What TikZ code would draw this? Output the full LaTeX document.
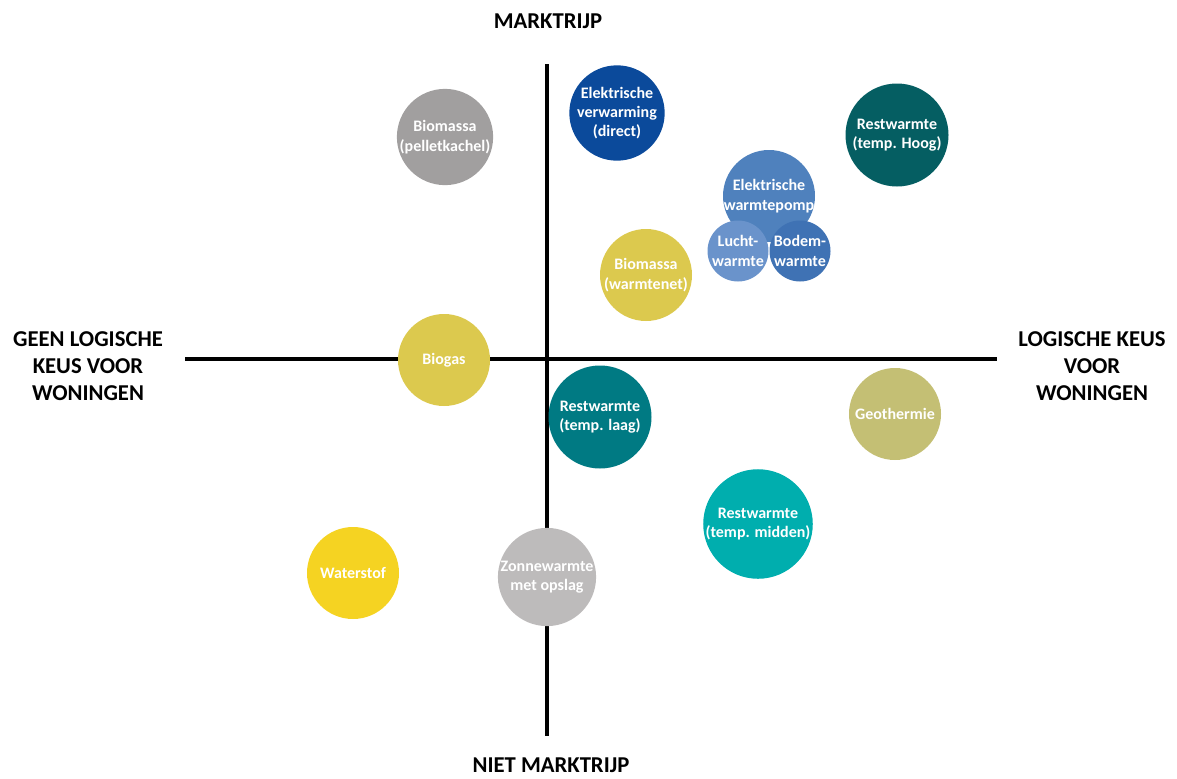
\documentclass[tikz,border=0pt]{standalone}
\usepackage{fontspec}
\setmainfont{Carlito}
\begin{document}
\begin{tikzpicture}[x=0.75pt,y=-0.75pt,
  btext/.style={text=white,font=\bfseries\fontsize{12}{14.5}\selectfont,align=center},
  bub/.style={circle,inner sep=0pt,minimum size=#1*0.75pt,btext},
  axis/.style={line width=3pt},
  lab/.style={font=\bfseries\fontsize{17}{20.5}\selectfont,align=center}]
\useasboundingbox (0,0) rectangle (1177,778);
% axes
\coordinate (vt) at (547,64);
\coordinate (vb) at (547,736);
\coordinate (hl) at (185,359);
\coordinate (hr) at (997,359);
\draw[axis] (vt) -- (vb);
\draw[axis] (hl) -- (hr);
% labels
\node[lab] (top) at (548,21) {MARKTRIJP};
\node[lab,anchor=base] (bot) at (551,772) {NIET MARKTRIJP};
\node[lab] (left) at (88,366) {GEEN LOGISCHE\\KEUS VOOR\\WONINGEN};
\node[lab] (right) at (1092,366) {LOGISCHE KEUS\\VOOR\\WONINGEN};
% colours
\definecolor{cGray}{HTML}{A19F9F}
\definecolor{cBlue}{HTML}{0B4A9B}
\definecolor{cTealD}{HTML}{055E62}
\definecolor{cBlueM}{HTML}{4F81BD}
\definecolor{cBlueL}{HTML}{6A93CB}
\definecolor{cBlueB}{HTML}{3F72B4}
\definecolor{cYel}{HTML}{DCC94E}
\definecolor{cTeal}{HTML}{007A83}
\definecolor{cOlive}{HTML}{C4BF74}
\definecolor{cCyan}{HTML}{00AEAE}
\definecolor{cWater}{HTML}{F5D322}
\definecolor{cGrayL}{HTML}{BDBBBB}
% bubbles
\node[bub=92,fill=cGray] (pellet) at (445,137) {Biomassa\\(pelletkachel)};
\node[bub=92,fill=cBlue] (direct) at (617,113) {Elektrische\\verwarming\\(direct)};
\node[bub=103,fill=cTealD] (hoog) at (897,135) {Restwarmte\\(temp. Hoog)};
\node[bub=92,fill=cBlueM] (pomp) at (769,196) {};
\node[bub=61,fill=cBlueL] (lucht) at (738,251) {Lucht-\\warmte};
\node[bub=61,fill=cBlueB] (bodem) at (800,251) {Bodem-\\warmte};
\node[btext] (pompt) at (769,196) {Elektrische\\warmtepomp};
\node[bub=92,fill=cYel] (warmtenet) at (646,275) {Biomassa\\(warmtenet)};
\node[bub=92,fill=cYel] (biogas) at (444,360) {Biogas};
\node[bub=103,fill=cTeal] (laag) at (600,417) {Restwarmte\\(temp. laag)};
\node[bub=92,fill=cOlive] (geo) at (895,414) {Geothermie};
\node[bub=103,fill=cCyan] (midden) at (758,524) {Restwarmte\\(temp. midden)};
\node[bub=92,fill=cWater] (water) at (353,573) {Waterstof};
\node[bub=92,fill=cGrayL] (zon) at (547,577) {Zonnewarmte\\met opslag};
\end{tikzpicture}
\end{document}
